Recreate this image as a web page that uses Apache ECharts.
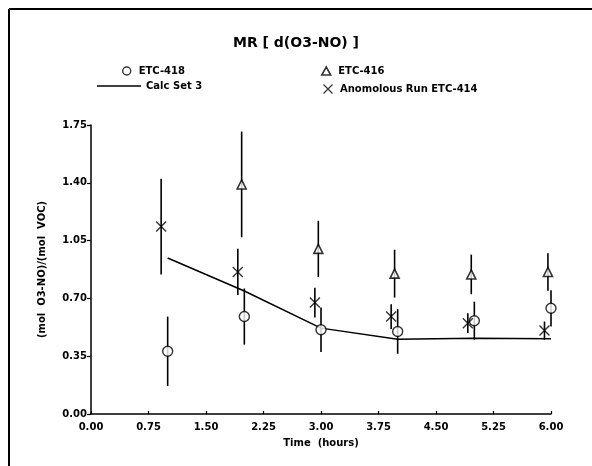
<!DOCTYPE html>
<html>
<head>
<meta charset="utf-8">
<script src="https://cdn.jsdelivr.net/npm/echarts@6/dist/echarts.min.js"></script>
<style>html,body{margin:0;padding:0;background:#fff;}#c{width:592px;height:466px;}</style>
</head>
<body>
<div id="c"></div>
<script>
// ETC-418 (circles)
var t418 = [1.0, 2.0, 3.0, 4.0, 5.0, 6.0];
var v418 = [0.38, 0.59, 0.51, 0.50, 0.565, 0.64];
var e418 = [0.21, 0.17, 0.135, 0.135, 0.115, 0.11];
// ETC-416 (triangles)
var t416 = [1.965, 2.965, 3.96, 4.96, 5.96];
var v416 = [1.39, 1.00, 0.85, 0.845, 0.86];
var e416 = [0.32, 0.17, 0.145, 0.12, 0.113];
// Anomolous Run ETC-414 (x marks)
var t414 = [0.915, 1.915, 2.92, 3.915, 4.915, 5.915];
var v414 = [1.135, 0.86, 0.675, 0.59, 0.55, 0.505];
var e414 = [0.29, 0.14, 0.09, 0.075, 0.06, 0.055];
// Calc Set 3 (line)
var tCalc = [1.0, 2.0, 3.0, 4.0, 5.0, 6.0];
var vCalc = [0.945, 0.745, 0.52, 0.452, 0.458, 0.455];

var xTicks = ['0.00','0.75','1.50','2.25','3.00','3.75','4.50','5.25','6.00'];
var yTicks = ['0.00','0.35','0.70','1.05','1.40','1.75'];

function pts(t, v) { return t.map(function (x, i) { return [x, v[i]]; }); }
function bars(t, v, e) { return t.map(function (x, i) { return [x, v[i] - e[i], v[i] + e[i]]; }); }

function errSeries(data) {
  return {
    type: 'custom',
    silent: true,
    data: data,
    encode: { x: 0, y: [1, 2] },
    renderItem: function (params, api) {
      var lo = api.coord([api.value(0), api.value(1)]);
      var hi = api.coord([api.value(0), api.value(2)]);
      return {
        type: 'line',
        shape: { x1: lo[0], y1: lo[1], x2: hi[0], y2: hi[1] },
        style: { stroke: '#000', lineWidth: 1.6 }
      };
    },
    z: 1
  };
}

var FONT = 'DejaVu Sans';
var crossPath = 'path://M0,0L10,10M10,0L0,10';
var triPath = 'path://M5,0L10,9L0,9Z';

var chart = echarts.init(document.getElementById('c'), null, { renderer: 'canvas' });
var legendText = { fontFamily: FONT, fontWeight: 'bold', fontSize: 10, color: '#000' };
var markStyle = { color: '#fff', borderColor: '#000', borderWidth: 1.4 };
function lg(item, left, top, w, h) {
  return { data: [item], left: left, top: top, padding: 0, itemWidth: w, itemHeight: h,
    symbolKeepAspect: true, textStyle: legendText, selectedMode: false };
}
chart.setOption({
  backgroundColor: '#fff',
  animation: false,
  title: {
    text: 'MR [ d(O3-NO) ]',
    left: 'center',
    top: 31,
    textStyle: { fontFamily: FONT, fontSize: 14, fontWeight: 'bold', color: '#000' }
  },
  legend: [
    lg({ name: 'ETC-418', icon: 'circle', itemStyle: markStyle }, 122, 66, 14, 8),
    lg({ name: 'Calc Set 3', icon: 'rect', itemStyle: { color: '#000', borderWidth: 0 } }, 97, 81, 44, 1.5),
    lg({ name: 'ETC-416', icon: triPath, itemStyle: { color: '#fff', borderColor: '#000', borderWidth: 1.6 } }, 321, 66, 14, 8),
    lg({ name: 'Anomolous Run ETC-414', icon: crossPath, itemStyle: { color: 'none', borderColor: '#000', borderWidth: 1.2 } }, 321, 82, 14, 9)
  ],
  graphic: [
    { type: 'line', shape: { x1: 9, y1: 9, x2: 592, y2: 9 }, style: { stroke: '#000', lineWidth: 2 } },
    { type: 'line', shape: { x1: 9, y1: 9, x2: 9, y2: 466 }, style: { stroke: '#000', lineWidth: 2 } }
  ],
  grid: { left: 91, right: 41, top: 125, bottom: 52 },
  xAxis: {
    type: 'value', min: 0, max: 6, interval: 0.75,
    name: 'Time  (hours)', nameLocation: 'middle', nameGap: 24,
    nameTextStyle: { fontFamily: FONT, fontWeight: 'bold', fontSize: 10, color: '#000' },
    axisLine: { lineStyle: { color: '#000', width: 1.5 } },
    axisTick: { inside: true, length: 3, lineStyle: { color: '#000', width: 1.2 } },
    axisLabel: { fontFamily: FONT, fontWeight: 'bold', fontSize: 10, color: '#000', margin: 8,
      formatter: function (v) { return xTicks[Math.round(v / 0.75)]; } },
    splitLine: { show: false }
  },
  yAxis: {
    type: 'value', min: 0, max: 1.75, interval: 0.35,
    name: '(mol  O3-NO)/(mol  VOC)', nameLocation: 'middle', nameGap: 44, nameRotate: 90,
    nameTextStyle: { fontFamily: FONT, fontWeight: 'bold', fontSize: 10, color: '#000' },
    axisLine: { lineStyle: { color: '#000', width: 1.5 } },
    axisTick: { length: 4, lineStyle: { color: '#000', width: 1.2 } },
    axisLabel: { fontFamily: FONT, fontWeight: 'bold', fontSize: 10, color: '#000', margin: 4,
      formatter: function (v) { return yTicks[Math.round(v / 0.35)]; } },
    splitLine: { show: false }
  },
  series: [
    errSeries(bars(t418, v418, e418)),
    errSeries(bars(t416, v416, e416)),
    errSeries(bars(t414, v414, e414)),
    {
      name: 'Calc Set 3', type: 'line', data: pts(tCalc, vCalc), showSymbol: false, symbol: 'none',
      lineStyle: { color: '#000', width: 1.5 }, itemStyle: { color: '#000' }, z: 2
    },
    {
      name: 'ETC-418', type: 'scatter', data: pts(t418, v418), symbol: 'circle', symbolSize: 10,
      itemStyle: { color: '#fff', borderColor: '#000', borderWidth: 1.4 }, z: 3
    },
    {
      name: 'ETC-416', type: 'scatter', data: pts(t416, v416), symbol: 'triangle', symbolSize: 9,
      itemStyle: { color: '#fff', borderColor: '#000', borderWidth: 1.6 }, z: 3
    },
    {
      name: 'Anomolous Run ETC-414', type: 'scatter', data: pts(t414, v414), symbol: crossPath, symbolSize: 10,
      itemStyle: { color: 'none', borderColor: '#000', borderWidth: 1.4 }, z: 3
    }
  ]
});
</script>
</body>
</html>
